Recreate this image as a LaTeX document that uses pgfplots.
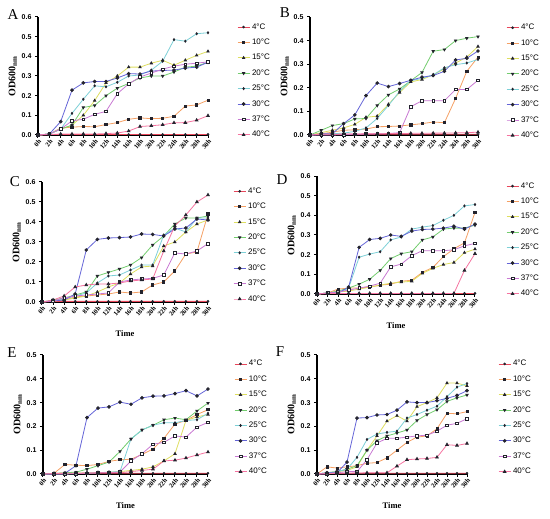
\documentclass[border=0pt]{standalone}
\usepackage{fontspec}
\setmainfont{Liberation Serif}
\setsansfont{Liberation Sans}
\usepackage{pgfplots}
\usepackage{pgfplotstable}
\pgfplotsset{compat=1.18}

\definecolor{c4}{RGB}{232,70,90}
\definecolor{c10}{RGB}{245,160,100}
\definecolor{c15}{RGB}{222,222,95}
\definecolor{c20}{RGB}{115,205,110}
\definecolor{c25}{RGB}{125,208,215}
\definecolor{c30}{RGB}{100,100,215}
\definecolor{c37}{RGB}{200,120,210}
\definecolor{c40}{RGB}{245,115,160}
\definecolor{mk}{RGB}{35,35,45}

\pgfplotstableread{
h  t4    t10   t15   t20   t25   t30   t37   t40
0  0     0     0     0     0     0     0     0
2  0.003 0.005 0.005 0.005 0.005 0.005 0.005 0.002
4  0.003 0.035 0.030 0.030 0.030 0.068 0.030 0.005
6  0.003 0.040 0.050 0.050 0.110 0.228 0.072 0.005
8  0.003 0.043 0.100 0.140 0.182 0.265 0.080 0.005
10 0.003 0.042 0.175 0.150 0.250 0.272 0.105 0.005
12 0.003 0.053 0.265 0.200 0.245 0.272 0.120 0.007
14 0.003 0.063 0.300 0.238 0.268 0.290 0.210 0.010
16 0.003 0.080 0.345 0.262 0.300 0.312 0.260 0.020
18 0.003 0.087 0.345 0.290 0.305 0.310 0.295 0.043
20 0.003 0.083 0.365 0.300 0.330 0.325 0.315 0.047
22 0.003 0.085 0.380 0.300 0.375 0.328 0.335 0.052
24 0.003 0.095 0.355 0.320 0.485 0.330 0.350 0.062
26 0.003 0.147 0.380 0.345 0.477 0.340 0.360 0.063
28 0.003 0.153 0.405 0.350 0.515 0.345 0.365 0.075
30 0.003 0.177 0.425 0.370 0.520 0.370 0.372 0.098
}\dA

\pgfplotstableread{
h  t4    t10   t15   t20   t25   t30   t37   t40
0  0     0     0     0     0     0     0     0
2  0.003 0.005 0.010 0.020 0.002 0.005 0.000 0.003
4  0.003 0.012 0.020 0.040 0.005 0.005 0.000 0.003
6  0.003 0.020 0.030 0.048 0.008 0.048 0.002 0.004
8  0.003 0.022 0.045 0.068 0.015 0.085 0.003 0.004
10 0.003 0.025 0.075 0.070 0.030 0.167 0.004 0.005
12 0.003 0.035 0.080 0.125 0.070 0.220 0.005 0.005
14 0.003 0.036 0.130 0.170 0.125 0.205 0.006 0.006
16 0.003 0.038 0.180 0.195 0.185 0.218 0.010 0.006
18 0.003 0.043 0.225 0.230 0.230 0.232 0.120 0.007
20 0.003 0.048 0.235 0.265 0.240 0.245 0.145 0.007
22 0.003 0.055 0.255 0.355 0.255 0.252 0.145 0.008
24 0.003 0.052 0.280 0.362 0.285 0.270 0.145 0.008
26 0.003 0.155 0.305 0.400 0.298 0.318 0.193 0.009
28 0.003 0.270 0.330 0.410 0.305 0.325 0.193 0.010
30 0.003 0.330 0.375 0.417 0.320 0.356 0.232 0.012
}\dB

\pgfplotstableread{
h  t4    t10   t15   t20   t25   t30   t37   t40
0  0     0     0     0     0     0     0     0
2  0.003 0.005 0.005 0.010 0.005 0.005 0.005 0.010
4  0.003 0.010 0.010 0.020 0.015 0.010 0.020 0.030
6  0.003 0.025 0.020 0.035 0.030 0.040 0.030 0.075
8  0.003 0.030 0.030 0.050 0.045 0.260 0.035 0.085
10 0.003 0.035 0.050 0.130 0.095 0.313 0.040 0.090
12 0.003 0.040 0.075 0.148 0.130 0.320 0.045 0.090
14 0.003 0.050 0.095 0.165 0.135 0.322 0.100 0.095
16 0.003 0.045 0.140 0.185 0.160 0.325 0.110 0.105
18 0.003 0.050 0.175 0.222 0.185 0.340 0.115 0.110
20 0.003 0.085 0.180 0.285 0.185 0.338 0.118 0.115
22 0.003 0.100 0.280 0.330 0.335 0.330 0.135 0.255
24 0.003 0.155 0.300 0.390 0.370 0.365 0.245 0.380
26 0.003 0.240 0.350 0.420 0.350 0.370 0.240 0.435
28 0.003 0.250 0.390 0.420 0.420 0.415 0.255 0.500
30 0.003 0.440 0.410 0.430 0.420 0.410 0.292 0.535
}\dC

\pgfplotstableread{
h  t4    t10   t15   t20   t25   t30   t37   t40
0  0     0     0     0     0     0     0     0
2  0.003 0.005 0.005 0.005 0.005 0.005 0.005 0.002
4  0.003 0.025 0.010 0.015 0.005 0.005 0.010 0.003
6  0.003 0.030 0.015 0.030 0.030 0.035 0.020 0.003
8  0.003 0.030 0.025 0.050 0.187 0.237 0.030 0.003
10 0.003 0.035 0.035 0.075 0.203 0.277 0.040 0.003
12 0.003 0.045 0.045 0.120 0.215 0.283 0.055 0.003
14 0.003 0.050 0.055 0.180 0.275 0.300 0.138 0.003
16 0.003 0.065 0.060 0.205 0.290 0.293 0.152 0.003
18 0.003 0.070 0.065 0.215 0.330 0.320 0.195 0.003
20 0.003 0.110 0.105 0.275 0.340 0.328 0.220 0.003
22 0.003 0.135 0.130 0.290 0.348 0.330 0.220 0.003
24 0.003 0.190 0.150 0.330 0.375 0.335 0.220 0.003
26 0.003 0.230 0.160 0.335 0.400 0.345 0.225 0.003
28 0.003 0.260 0.210 0.335 0.448 0.330 0.245 0.120
30 0.003 0.415 0.228 0.350 0.455 0.355 0.257 0.205
}\dD

\pgfplotstableread{
h  t4    t10   t15   t20   t25   t30   t37   t40
0  0     0     0     0     0     0     0     0
2  0.003 0.003 0.002 0.002 0.000 0.000 0.000 0.002
4  0.003 0.040 0.003 0.005 0.000 0.003 0.000 0.003
6  0.003 0.037 0.004 0.008 0.002 0.035 0.002 0.003
8  0.003 0.035 0.005 0.020 0.004 0.237 0.003 0.004
10 0.003 0.040 0.006 0.035 0.005 0.277 0.005 0.005
12 0.003 0.053 0.007 0.050 0.008 0.282 0.005 0.005
14 0.003 0.060 0.010 0.095 0.010 0.302 0.008 0.005
16 0.003 0.062 0.015 0.147 0.147 0.293 0.055 0.010
18 0.003 0.082 0.020 0.185 0.185 0.320 0.085 0.015
20 0.003 0.105 0.030 0.205 0.205 0.327 0.125 0.020
22 0.003 0.150 0.055 0.228 0.215 0.328 0.133 0.055
24 0.003 0.210 0.085 0.235 0.215 0.338 0.160 0.058
26 0.003 0.225 0.225 0.228 0.225 0.350 0.155 0.067
28 0.003 0.250 0.240 0.265 0.228 0.328 0.197 0.080
30 0.003 0.270 0.250 0.298 0.255 0.357 0.217 0.092
}\dE

\pgfplotstableread{
h  t4    t10   t15   t20   t25   t30   t37   t40
0  0     0     0     0     0     0     0     0
2  0.003 0.030 0.005 0.005 0.005 0.005 0.000 0.002
4  0.003 0.025 0.010 0.010 0.010 0.005 0.005 0.003
6  0.003 0.030 0.015 0.020 0.020 0.050 0.010 0.003
8  0.003 0.035 0.030 0.035 0.070 0.235 0.010 0.004
10 0.003 0.045 0.100 0.100 0.145 0.237 0.060 0.005
12 0.003 0.048 0.160 0.140 0.168 0.248 0.130 0.005
14 0.003 0.068 0.222 0.160 0.175 0.250 0.150 0.005
16 0.003 0.100 0.245 0.172 0.180 0.268 0.150 0.033
18 0.003 0.133 0.222 0.185 0.235 0.303 0.155 0.060
20 0.003 0.155 0.283 0.225 0.250 0.300 0.160 0.063
22 0.003 0.160 0.300 0.250 0.268 0.300 0.163 0.065
24 0.003 0.190 0.320 0.270 0.285 0.308 0.180 0.070
26 0.003 0.255 0.382 0.305 0.325 0.318 0.205 0.123
28 0.003 0.253 0.382 0.320 0.365 0.330 0.213 0.120
30 0.003 0.262 0.370 0.332 0.380 0.350 0.232 0.128
}\dF

\pgfplotsset{
  s4/.style={c4, line width=0.8pt, mark=*, mark size=0.9pt, mark options={solid, fill=mk, draw=mk}},
  s10/.style={c10, line width=0.8pt, mark=square*, mark size=1.1pt, mark options={solid, fill=mk, draw=mk}},
  s15/.style={c15, line width=0.8pt, mark=triangle*, mark size=1.3pt, mark options={solid, fill=mk, draw=mk}},
  s20/.style={c20, line width=0.8pt, mark=triangle*, mark size=1.3pt, mark options={solid, fill=mk, draw=mk, rotate=180}},
  s25/.style={c25, line width=0.8pt, mark=diamond*, mark size=1.0pt, mark options={solid, fill=mk, draw=mk}},
  s30/.style={c30, line width=0.8pt, mark=*, mark size=1.4pt, mark options={solid, fill=mk, draw=mk}},
  s37/.style={c37, line width=0.8pt, mark=square*, mark size=1.3pt, mark options={solid, fill=white, draw=mk, line width=0.6pt}},
  s40/.style={c40, line width=0.8pt, mark=triangle*, mark size=1.5pt, mark options={solid, fill=mk, draw=mk}},
  panel/.style={
    scale only axis, anchor=south west, clip=false,
    axis x line=bottom, axis y line=left,
    axis line style={-, line width=1.3pt, black},
    xmin=0, xmax=30, ymin=0,
    xtick={0,2,4,6,8,10,12,14,16,18,20,22,24,26,28,30},
    xticklabels={0h,2h,4h,6h,8h,10h,12h,14h,16h,18h,20h,22h,24h,26h,28h,30h},
    xticklabel style={rotate=50, anchor=north east, inner sep=0.5pt, font=\bfseries\fontsize{6.6}{6.6}\selectfont},
    /pgf/number format/assume math mode=true,
    yticklabel style={font=\sffamily\bfseries\fontsize{7}{7}\selectfont,
      /pgf/number format/.cd, fixed, fixed zerofill, precision=1, assume math mode=true},
    tick align=outside, major tick length=3pt,
    every tick/.style={black, line width=1pt},
    ylabel={\textbf{OD600}\textsubscript{\textbf{nm}}},
    ylabel style={font=\fontsize{10}{11}\selectfont, yshift=-2pt},
    xlabel style={font=\bfseries\fontsize{8.5}{9}\selectfont, yshift=-10pt},
    legend cell align=left,
    legend image code/.code={\draw[mark repeat=2,mark phase=2] plot coordinates {(0pt,0pt) (6pt,0pt) (12pt,0pt)};},
    legend style={draw=none, fill=none, anchor=north west, row sep=4.3pt,
      font=\sffamily\fontsize{8}{8}\selectfont},
  },
}

\newcommand{\allplots}[1]{%
  \addplot[s4]  table[x=h,y=t4]{#1};
  \addplot[s10] table[x=h,y=t10]{#1};
  \addplot[s15] table[x=h,y=t15]{#1};
  \addplot[s20] table[x=h,y=t20]{#1};
  \addplot[s25] table[x=h,y=t25]{#1};
  \addplot[s30] table[x=h,y=t30]{#1};
  \addplot[s37] table[x=h,y=t37]{#1};
  \addplot[s40] table[x=h,y=t40]{#1};
  \legend{4°C,10°C,15°C,20°C,25°C,30°C,37°C,40°C}
}

\begin{document}
\begin{tikzpicture}
\useasboundingbox (0,0) rectangle (550pt,519pt);

% A
\begin{axis}[panel, at={(38pt,384pt)}, width=170pt, height=118pt,
  ymax=0.6, ytick={0,0.1,0.2,0.3,0.4,0.5,0.6},
  legend style={at={(1.153,0.98)}}]
\allplots{\dA}
\end{axis}

% B
\begin{axis}[panel, at={(310pt,384pt)}, width=168pt, height=118pt,
  ymax=0.5, ytick={0,0.1,0.2,0.3,0.4,0.5},
  legend style={at={(1.149,0.975)}}]
\allplots{\dB}
\end{axis}

% C
\begin{axis}[panel, at={(42pt,217pt)}, width=166pt, height=120pt,
  ymax=0.6, ytick={0,0.1,0.2,0.3,0.4,0.5,0.6}, xlabel={Time},
  legend style={at={(1.133,0.987)}}]
\allplots{\dC}
\end{axis}

% D
\begin{axis}[panel, at={(317pt,225pt)}, width=158pt, height=118pt,
  ymax=0.6, ytick={0,0.1,0.2,0.3,0.4,0.5,0.6}, xlabel={Time},
  legend style={at={(1.177,0.98)}}]
\allplots{\dD}
\end{axis}

% E
\begin{axis}[panel, at={(43pt,45pt)}, width=165pt, height=119pt,
  ymax=0.5, ytick={0,0.1,0.2,0.3,0.4,0.5}, xlabel={Time},
  legend style={at={(1.139,0.99)}}]
\allplots{\dE}
\end{axis}

% F
\begin{axis}[panel, at={(317pt,45pt)}, width=150pt, height=119pt,
  ymax=0.5, ytick={0,0.1,0.2,0.3,0.4,0.5}, xlabel={Time},
  legend style={at={(1.187,0.99)}}]
\allplots{\dF}
\end{axis}

\node[font=\fontsize{15}{15}\selectfont] at (13pt,504pt) {A};
\node[font=\fontsize{15}{15}\selectfont] at (285pt,506pt) {B};
\node[font=\fontsize{15}{15}\selectfont] at (15pt,337pt) {C};
\node[font=\fontsize{15}{15}\selectfont] at (282pt,339pt) {D};
\node[font=\fontsize{15}{15}\selectfont] at (12pt,166pt) {E};
\node[font=\fontsize{15}{15}\selectfont] at (280pt,167pt) {F};
\end{tikzpicture}
\end{document}
